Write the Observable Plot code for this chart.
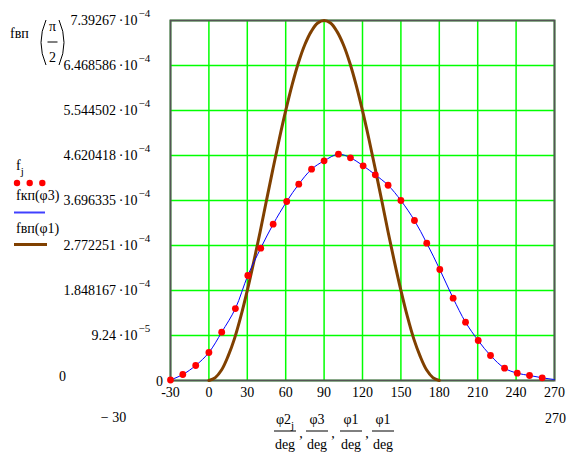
<!DOCTYPE html>
<html><head><meta charset="utf-8">
<script src="https://cdn.jsdelivr.net/npm/d3@7"></script>
<script src="https://cdn.jsdelivr.net/npm/@observablehq/plot@0.6"></script>
<style>
body{margin:0;background:#fff}
#chart svg, #chart text, #chart tspan { font-family: "Liberation Serif", "Times New Roman", "DejaVu Serif", serif !important; }
</style>
</head><body><div id="chart"></div>
<script>
// red dots f_j vs φ2_j/deg (values ×1e-4)
const phi2 = [-30,-20.4,-10.3,0,10,20.7,30.4,40.5,50.2,60.8,70.2,80.2,90,101.2,110.6,120.5,130,140,150,160.6,170.2,180.4,190.8,200.5,210.4,220,231,240.9,250.5,260.4];
const fj = [0.01,0.123,0.308,0.575,0.992,1.478,2.156,2.717,3.210,3.676,4.031,4.339,4.511,4.647,4.573,4.409,4.224,4.010,3.696,3.286,2.820,2.279,1.690,1.197,0.821,0.513,0.253,0.150,0.103,0.055];
// blue line fкп(φ3)
const phi3 = [-30,-20.4,-10.3,0,10,20.7,30.4,40.5,50.2,60.8,70.2,80.2,90,101.2,110.6,120.5,130,140,150,160.6,170.2,180.4,190.8,200.5,210.4,220,231,240.9,250.5,260.4,270];
const fkp = [0.01,0.123,0.308,0.575,0.992,1.478,2.156,2.717,3.210,3.676,4.031,4.339,4.511,4.647,4.573,4.409,4.224,4.010,3.696,3.286,2.820,2.279,1.690,1.197,0.821,0.513,0.253,0.150,0.103,0.055,0.02];
// brown line fвп(φ1)
const phi1 = [0,5,10,15,20,25,30,35,40,45,50,55,60,65,70,75,80,85,90,95,100,105,110,115,120,125,130,135,140,145,150,155,160,165,170,175,180];
const fvp = [0,0.06,0.22,0.50,0.86,1.32,1.85,2.43,3.05,3.70,4.34,4.96,5.54,6.07,6.53,6.90,7.17,7.34,7.39267,7.34,7.17,6.90,6.53,6.07,5.54,4.96,4.34,3.70,3.05,2.43,1.85,1.32,0.86,0.50,0.22,0.06,0];
// ticks
const xTicks = [-30,0,30,60,90,120,150,180,210,240,270];
const yTicks = [0,9.24e-5,1.848167e-4,2.772251e-4,3.696335e-4,4.620418e-4,5.544502e-4,6.468586e-4,7.39267e-4];
const yMant = ["0","9.24","1.848167","2.772251","3.696335","4.620418","5.544502","6.468586","7.39267"];
const yExp = ["","−5","−4","−4","−4","−4","−4","−4","−4"];

const E = 1e-4;
const dots = phi2.map((x,i)=>({x, y: fj[i]*E}));
const blue = phi3.map((x,i)=>({x, y: fkp[i]*E}));
const brown = phi1.map((x,i)=>({x, y: fvp[i]*E}));
const yIdx = d3.range(1, yTicks.length);
const FONT = "'Liberation Serif', 'Times New Roman', serif";

const chart = Plot.plot({
  width: 573, height: 454,
  marginLeft: 170, marginRight: 19, marginTop: 20, marginBottom: 74,
  style: {fontFamily: FONT, fontSize: "14px", background: "white", color: "black"},
  x: {domain: [-30, 270], axis: null},
  y: {domain: [0, 7.39267e-4], axis: null},
  marks: [
    Plot.ruleX(xTicks, {stroke: "#00ff00", strokeWidth: 1.5}),
    Plot.ruleY(yTicks, {stroke: "#00ff00", strokeWidth: 1.5}),
    Plot.frame({stroke: "#555", strokeWidth: 2}),
    Plot.line(brown, {x: "x", y: "y", stroke: "#804000", strokeWidth: 3, curve: "catmull-rom"}),
    Plot.line(blue, {x: "x", y: "y", stroke: "#0000ff", strokeWidth: 1, curve: "catmull-rom"}),
    Plot.dot(dots, {x: "x", y: "y", r: 3.4, fill: "#ff0000", stroke: "none"}),
    Plot.text(xTicks, {x: d => d, frameAnchor: "bottom", lineAnchor: "middle", dy: 12, text: d => String(d), fill: "black", fontFamily: FONT}),
    Plot.text(yIdx, {y: i => yTicks[i], frameAnchor: "left", textAnchor: "end", lineAnchor: "middle", dx: -33, text: i => yMant[i] + "\u2009·10", fill: "black", fontFamily: FONT}),
    Plot.text(yIdx, {y: i => yTicks[i], frameAnchor: "left", textAnchor: "start", lineAnchor: "middle", dx: -32, dy: -7, fontSize: 11, text: i => yExp[i], fill: "black", fontFamily: FONT}),
    Plot.text([yMant[0]], {y: () => yTicks[0], frameAnchor: "left", textAnchor: "middle", lineAnchor: "middle", dx: -11, dy: 1, text: d => d, fill: "black", fontFamily: FONT}),
    Plot.text(["0"], {frameAnchor: "bottom-left", textAnchor: "middle", lineAnchor: "middle", dx: -108, dy: -4, text: d => d, fill: "black", fontFamily: FONT}),
    Plot.text(["− 30"], {frameAnchor: "bottom-left", textAnchor: "middle", lineAnchor: "middle", dx: -57, dy: 37, text: d => d, fill: "black", fontFamily: FONT}),
    Plot.text(["270"], {frameAnchor: "bottom-right", textAnchor: "middle", lineAnchor: "middle", dx: 1, dy: 38, text: d => d, fill: "black", fontFamily: FONT})
  ]
});
document.getElementById("chart").appendChild(chart);

// annotations (Mathcad-style labels)
const svg = d3.select(chart);
const g = svg.append("g").attr("font-family", FONT).attr("font-size", 14).attr("fill", "black").attr("text-anchor", "start");
// y-axis title fвп(π/2)
g.append("text").attr("x", 10).attr("y", 38).text("fвп");
g.append("path").attr("d", "M46,20 Q36,42.5 46,65").attr("fill", "none").attr("stroke", "black").attr("stroke-width", 1);
g.append("path").attr("d", "M59,20 Q69,42.5 59,65").attr("fill", "none").attr("stroke", "black").attr("stroke-width", 1);
g.append("text").attr("x", 52.5).attr("y", 31).attr("text-anchor", "middle").text("π");
g.append("line").attr("x1", 47.5).attr("x2", 57.5).attr("y1", 42).attr("y2", 42).attr("stroke", "black");
g.append("text").attr("x", 52.5).attr("y", 62).attr("text-anchor", "middle").text("2");
// legend
const t1 = g.append("text").attr("x", 16).attr("y", 170);
t1.append("tspan").text("f");
t1.append("tspan").attr("font-size", 11).attr("dy", 5).text("j");
[17, 29.7, 42.3].forEach(cx => g.append("circle").attr("cx", cx).attr("cy", 183).attr("r", 3.2).attr("fill", "#ff0000"));
g.append("text").attr("x", 16).attr("y", 200).text("fкп(φ3)");
g.append("line").attr("x1", 14).attr("x2", 45).attr("y1", 212.5).attr("y2", 212.5).attr("stroke", "#4040ff").attr("stroke-width", 2);
g.append("text").attr("x", 16).attr("y", 233).text("fвп(φ1)");
g.append("line").attr("x1", 14).attr("x2", 47).attr("y1", 244.5).attr("y2", 244.5).attr("stroke", "#804000").attr("stroke-width", 3);
// x-axis title fractions
const fr = [{c: 285, n: "φ2", sub: "j"}, {c: 317, n: "φ3"}, {c: 351, n: "φ1"}, {c: 383, n: "φ1"}];
fr.forEach((f, i) => {
  const tn = g.append("text").attr("x", f.c).attr("y", 424).attr("text-anchor", "middle");
  tn.append("tspan").text(f.n);
  if (f.sub) tn.append("tspan").attr("font-size", 11).attr("dy", 5).text(f.sub);
  g.append("line").attr("x1", f.c - 11).attr("x2", f.c + 11).attr("y1", 431).attr("y2", 431).attr("stroke", "black");
  g.append("text").attr("x", f.c).attr("y", 449).attr("text-anchor", "middle").text("deg");
  if (i < fr.length - 1) g.append("text").attr("x", f.c + 16).attr("y", 438).attr("text-anchor", "middle").text(",");
});
</script>
</body></html>
